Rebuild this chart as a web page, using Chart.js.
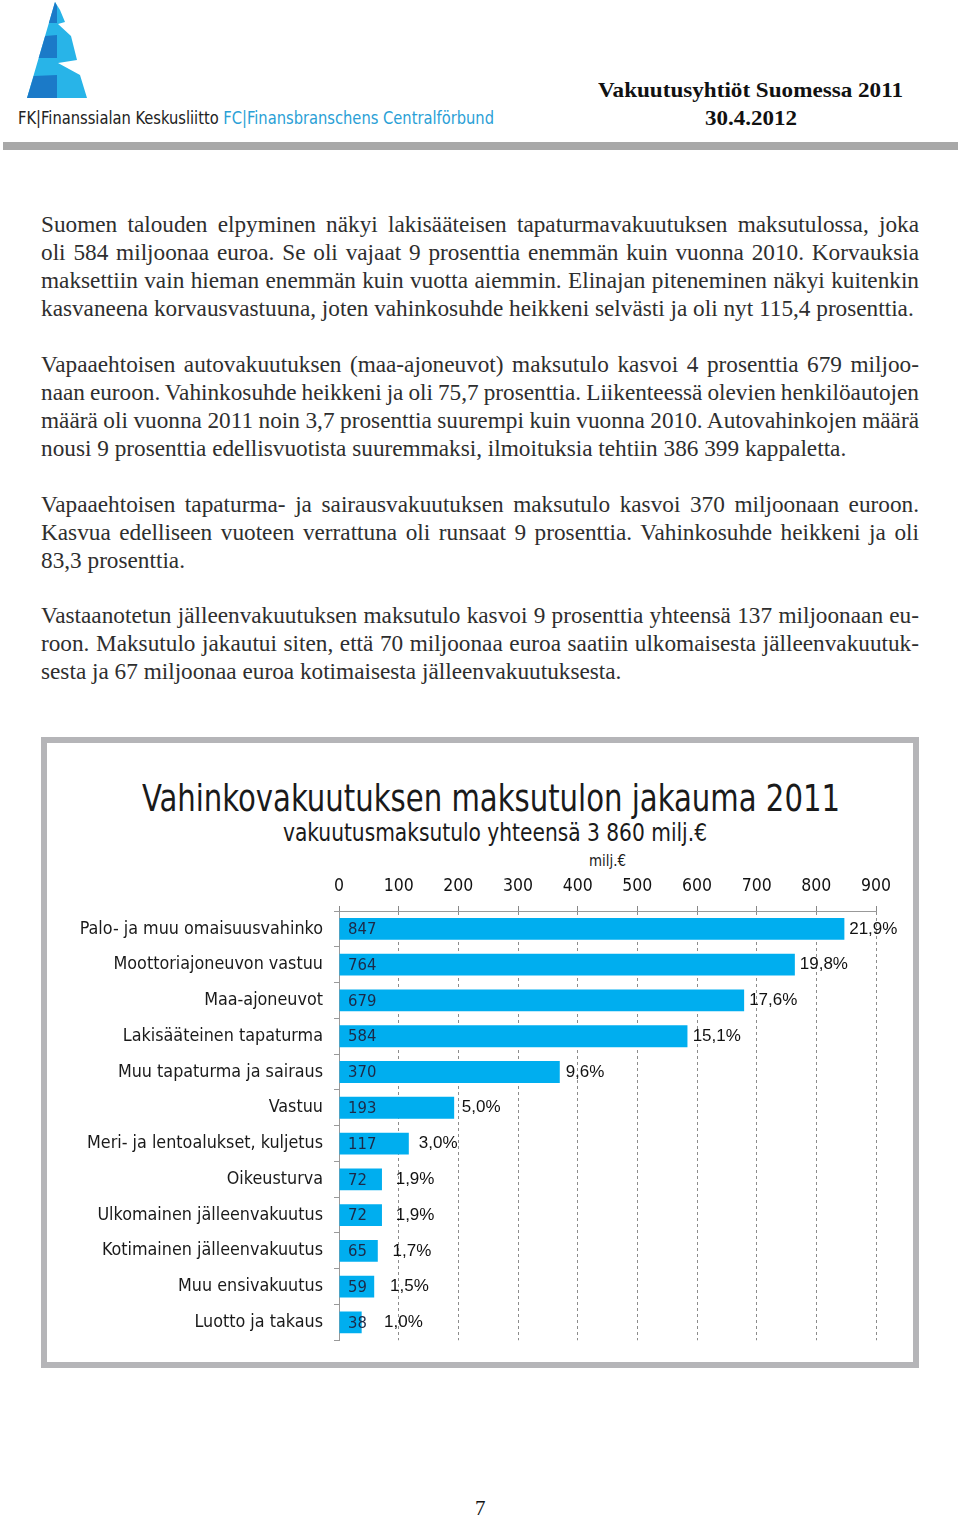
<!DOCTYPE html>
<html><head><meta charset="utf-8">
<script src="https://cdn.jsdelivr.net/npm/chart.js@4.4.1/dist/chart.umd.min.js"></script>
<style>
html,body{margin:0;padding:0;}
body{width:960px;height:1518px;background:#fff;position:relative;overflow:hidden;font-family:'Liberation Serif','Times New Roman',serif;}
.abs{position:absolute;white-space:nowrap;line-height:1;}
.fit{display:inline-block;transform-origin:0 0;}
.para{position:absolute;left:41px;width:878px;font-size:23.25px;line-height:28px;color:#2e2e2e;font-family:'Liberation Serif','Times New Roman',serif;}
.para .ln{display:block;white-space:nowrap;}
.ctitle{font-family:'DejaVu Sans Condensed','Liberation Sans Narrow','Liberation Sans',sans-serif;color:#1a1a1a;}
</style>
</head>
<body>
<svg class="abs" style="left:0;top:0" width="120" height="110" viewBox="0 0 120 110">
  <polygon points="55,2 60,10 65,22 58,24 71,36 77,60 58,63 80,75 87,98 27,98" fill="#28b4e8"/>
  <polygon points="55,2 57,6 57,23 48.9,23" fill="#1b7ac8"/>
  <polygon points="45.2,36 57,35 57,58 38.7,58" fill="#1b7ac8"/>
  <polygon points="33.7,76 57,75 57,98 27,98" fill="#1b7ac8"/>
</svg>
<div class="abs fit" id="fk" style="left:18px;top:110px;font-size:17px;font-family:'DejaVu Sans Condensed','Liberation Sans Narrow','Liberation Sans',sans-serif;color:#222">FK|Finanssialan Keskusliitto <span style="color:#2a9fd6">FC|Finansbranschens Centralförbund</span></div>
<div class="abs fit" id="h1" style="left:598px;top:79px;font-size:22px;font-weight:bold;color:#111">Vakuutusyhtiöt Suomessa 2011</div>
<div class="abs fit" id="h2" style="left:705px;top:107px;font-size:22px;font-weight:bold;color:#111">30.4.2012</div>
<div class="abs" style="left:3px;top:142px;width:955px;height:8px;background:#a8a8a8"></div>

<div class="para" style="top:210px">
<div class="ln j">Suomen talouden elpyminen näkyi lakisääteisen tapaturmavakuutuksen maksutulossa, joka</div>
<div class="ln j">oli 584 miljoonaa euroa. Se oli vajaat 9 prosenttia enemmän kuin vuonna 2010. Korvauksia</div>
<div class="ln j">maksettiin vain hieman enemmän kuin vuotta aiemmin. Elinajan piteneminen näkyi kuitenkin</div>
<div class="ln">kasvaneena korvausvastuuna, joten vahinkosuhde heikkeni selvästi ja oli nyt 115,4 prosenttia.</div>
</div>
<div class="para" style="top:350px">
<div class="ln j">Vapaaehtoisen autovakuutuksen (maa-ajoneuvot) maksutulo kasvoi 4 prosenttia 679 miljoo-</div>
<div class="ln j">naan euroon. Vahinkosuhde heikkeni ja oli 75,7 prosenttia. Liikenteessä olevien henkilöautojen</div>
<div class="ln j">määrä oli vuonna 2011 noin 3,7 prosenttia suurempi kuin vuonna 2010. Autovahinkojen määrä</div>
<div class="ln">nousi 9 prosenttia edellisvuotista suuremmaksi, ilmoituksia tehtiin 386 399 kappaletta.</div>
</div>
<div class="para" style="top:490px">
<div class="ln j">Vapaaehtoisen tapaturma- ja sairausvakuutuksen maksutulo kasvoi 370 miljoonaan euroon.</div>
<div class="ln j">Kasvua edelliseen vuoteen verrattuna oli runsaat 9 prosenttia. Vahinkosuhde heikkeni ja oli</div>
<div class="ln">83,3 prosenttia.</div>
</div>
<div class="para" style="top:601px">
<div class="ln j">Vastaanotetun jälleenvakuutuksen maksutulo kasvoi 9 prosenttia yhteensä 137 miljoonaan eu-</div>
<div class="ln j">roon. Maksutulo jakautui siten, että 70 miljoonaa euroa saatiin ulkomaisesta jälleenvakuutuk-</div>
<div class="ln">sesta ja 67 miljoonaa euroa kotimaisesta jälleenvakuutuksesta.</div>
</div>

<div class="abs" style="left:41px;top:737px;width:878px;height:631px;border:6px solid #b5b5b8;box-sizing:border-box;background:#fff"></div>
<div class="abs fit ctitle" id="t1" style="left:142px;top:779px;font-size:38px">Vahinkovakuutuksen maksutulon jakauma 2011</div>
<div class="abs fit ctitle" id="t2" style="left:283px;top:821px;font-size:24px">vakuutusmaksutulo yhteensä 3 860 milj.€</div>
<div class="abs fit ctitle" id="t3" style="left:589px;top:854px;font-size:15px">milj.€</div>
<div class="abs" style="left:47px;top:862px;width:866px;height:500px"><canvas id="c" width="866" height="500"></canvas></div>
<div class="abs" style="left:475px;top:1498px;font-size:21px;color:#111">7</div>

<script>
const categories = [
  'Palo- ja muu omaisuusvahinko',
  'Moottoriajoneuvon vastuu',
  'Maa-ajoneuvot',
  'Lakisääteinen tapaturma',
  'Muu tapaturma ja sairaus',
  'Vastuu',
  'Meri- ja lentoalukset, kuljetus',
  'Oikeusturva',
  'Ulkomainen jälleenvakuutus',
  'Kotimainen jälleenvakuutus',
  'Muu ensivakuutus',
  'Luotto ja takaus'
];
const premiums = [847, 764, 679, 584, 370, 193, 117, 72, 72, 65, 59, 38];
const shares = [21.9, 19.8, 17.6, 15.1, 9.6, 5.0, 3.0, 1.9, 1.9, 1.7, 1.5, 1.0];
const axisMin = 0, axisMax = 900, axisStep = 100;

function fitWidth(id, w){
  const el = document.getElementById(id);
  const r = el.getBoundingClientRect().width;
  el.style.transform = 'scaleX(' + (w / r) + ')';
}
fitWidth('fk', 476);
fitWidth('h1', 305);
fitWidth('h2', 92);
fitWidth('t1', 698);
fitWidth('t2', 424);
fitWidth('t3', 37);

// justify body lines to the column width
document.querySelectorAll('.ln.j').forEach(el => {
  el.style.display = 'inline-block';
  const w = el.getBoundingClientRect().width;
  el.style.display = 'block';
  const n = (el.textContent.match(/ /g) || []).length;
  if (n > 0) el.style.wordSpacing = ((878 - w) / n) + 'px';
});

const F = "'DejaVu Sans Condensed','Liberation Sans',sans-serif";
const FA = "'Liberation Sans',Arial,sans-serif";

const labelPlugin = {
  id: 'barLabels',
  afterDatasetsDraw(chart){
    const ctx = chart.ctx;
    const meta = chart.getDatasetMeta(0);
    const xs = chart.scales.x;
    ctx.save();
    ctx.textBaseline = 'middle';
    ctx.textAlign = 'left';
    meta.data.forEach((bar, i) => {
      const v = premiums[i];
      ctx.font = '16.5px ' + F;
      ctx.fillStyle = '#1c2a48';
      ctx.fillText(String(v), xs.getPixelForValue(0) + 9, bar.y + 1);
      ctx.font = '17px ' + FA;
      ctx.fillStyle = '#111';
      ctx.fillText(shares[i].toFixed(1).replace('.', ',') + '%', bar.x + 4 + 700 / v, bar.y);
    });
    ctx.restore();
  }
};

new Chart(document.getElementById('c'), {
  type: 'bar',
  data: {
    labels: categories,
    datasets: [{
      data: premiums,
      backgroundColor: '#00aeef',
      borderWidth: 0,
      barPercentage: 0.61,
      categoryPercentage: 1.0
    }]
  },
  options: {
    indexAxis: 'y',
    responsive: false,
    animation: false,
    events: [],
    layout: { padding: { left: 0, right: 37, top: 0, bottom: 19 } },
    plugins: { legend: { display: false }, tooltip: { enabled: false }, title: { display: false } },
    scales: {
      x: {
        type: 'linear', position: 'top', min: axisMin, max: axisMax,
        ticks: { stepSize: axisStep, font: { size: 17.5, family: F }, color: '#111', padding: 9 },
        grid: { color: '#8c8c8c', lineWidth: 1, tickLength: 5, tickColor: '#888' },
        border: { display: true, color: '#999', width: 1, dash: [3, 3] },
        afterFit(s){ s.height = 49; }
      },
      y: {
        type: 'category',
        ticks: { font: { size: 17.8, family: F }, color: '#1a1a1a', padding: 11 },
        grid: { drawOnChartArea: false, tickLength: 5, color: '#999', offset: true },
        border: { display: true, color: '#999', width: 1 },
        afterFit(s){ s.width = 292; }
      }
    }
  },
  plugins: [labelPlugin]
});
</script>
</body></html>
